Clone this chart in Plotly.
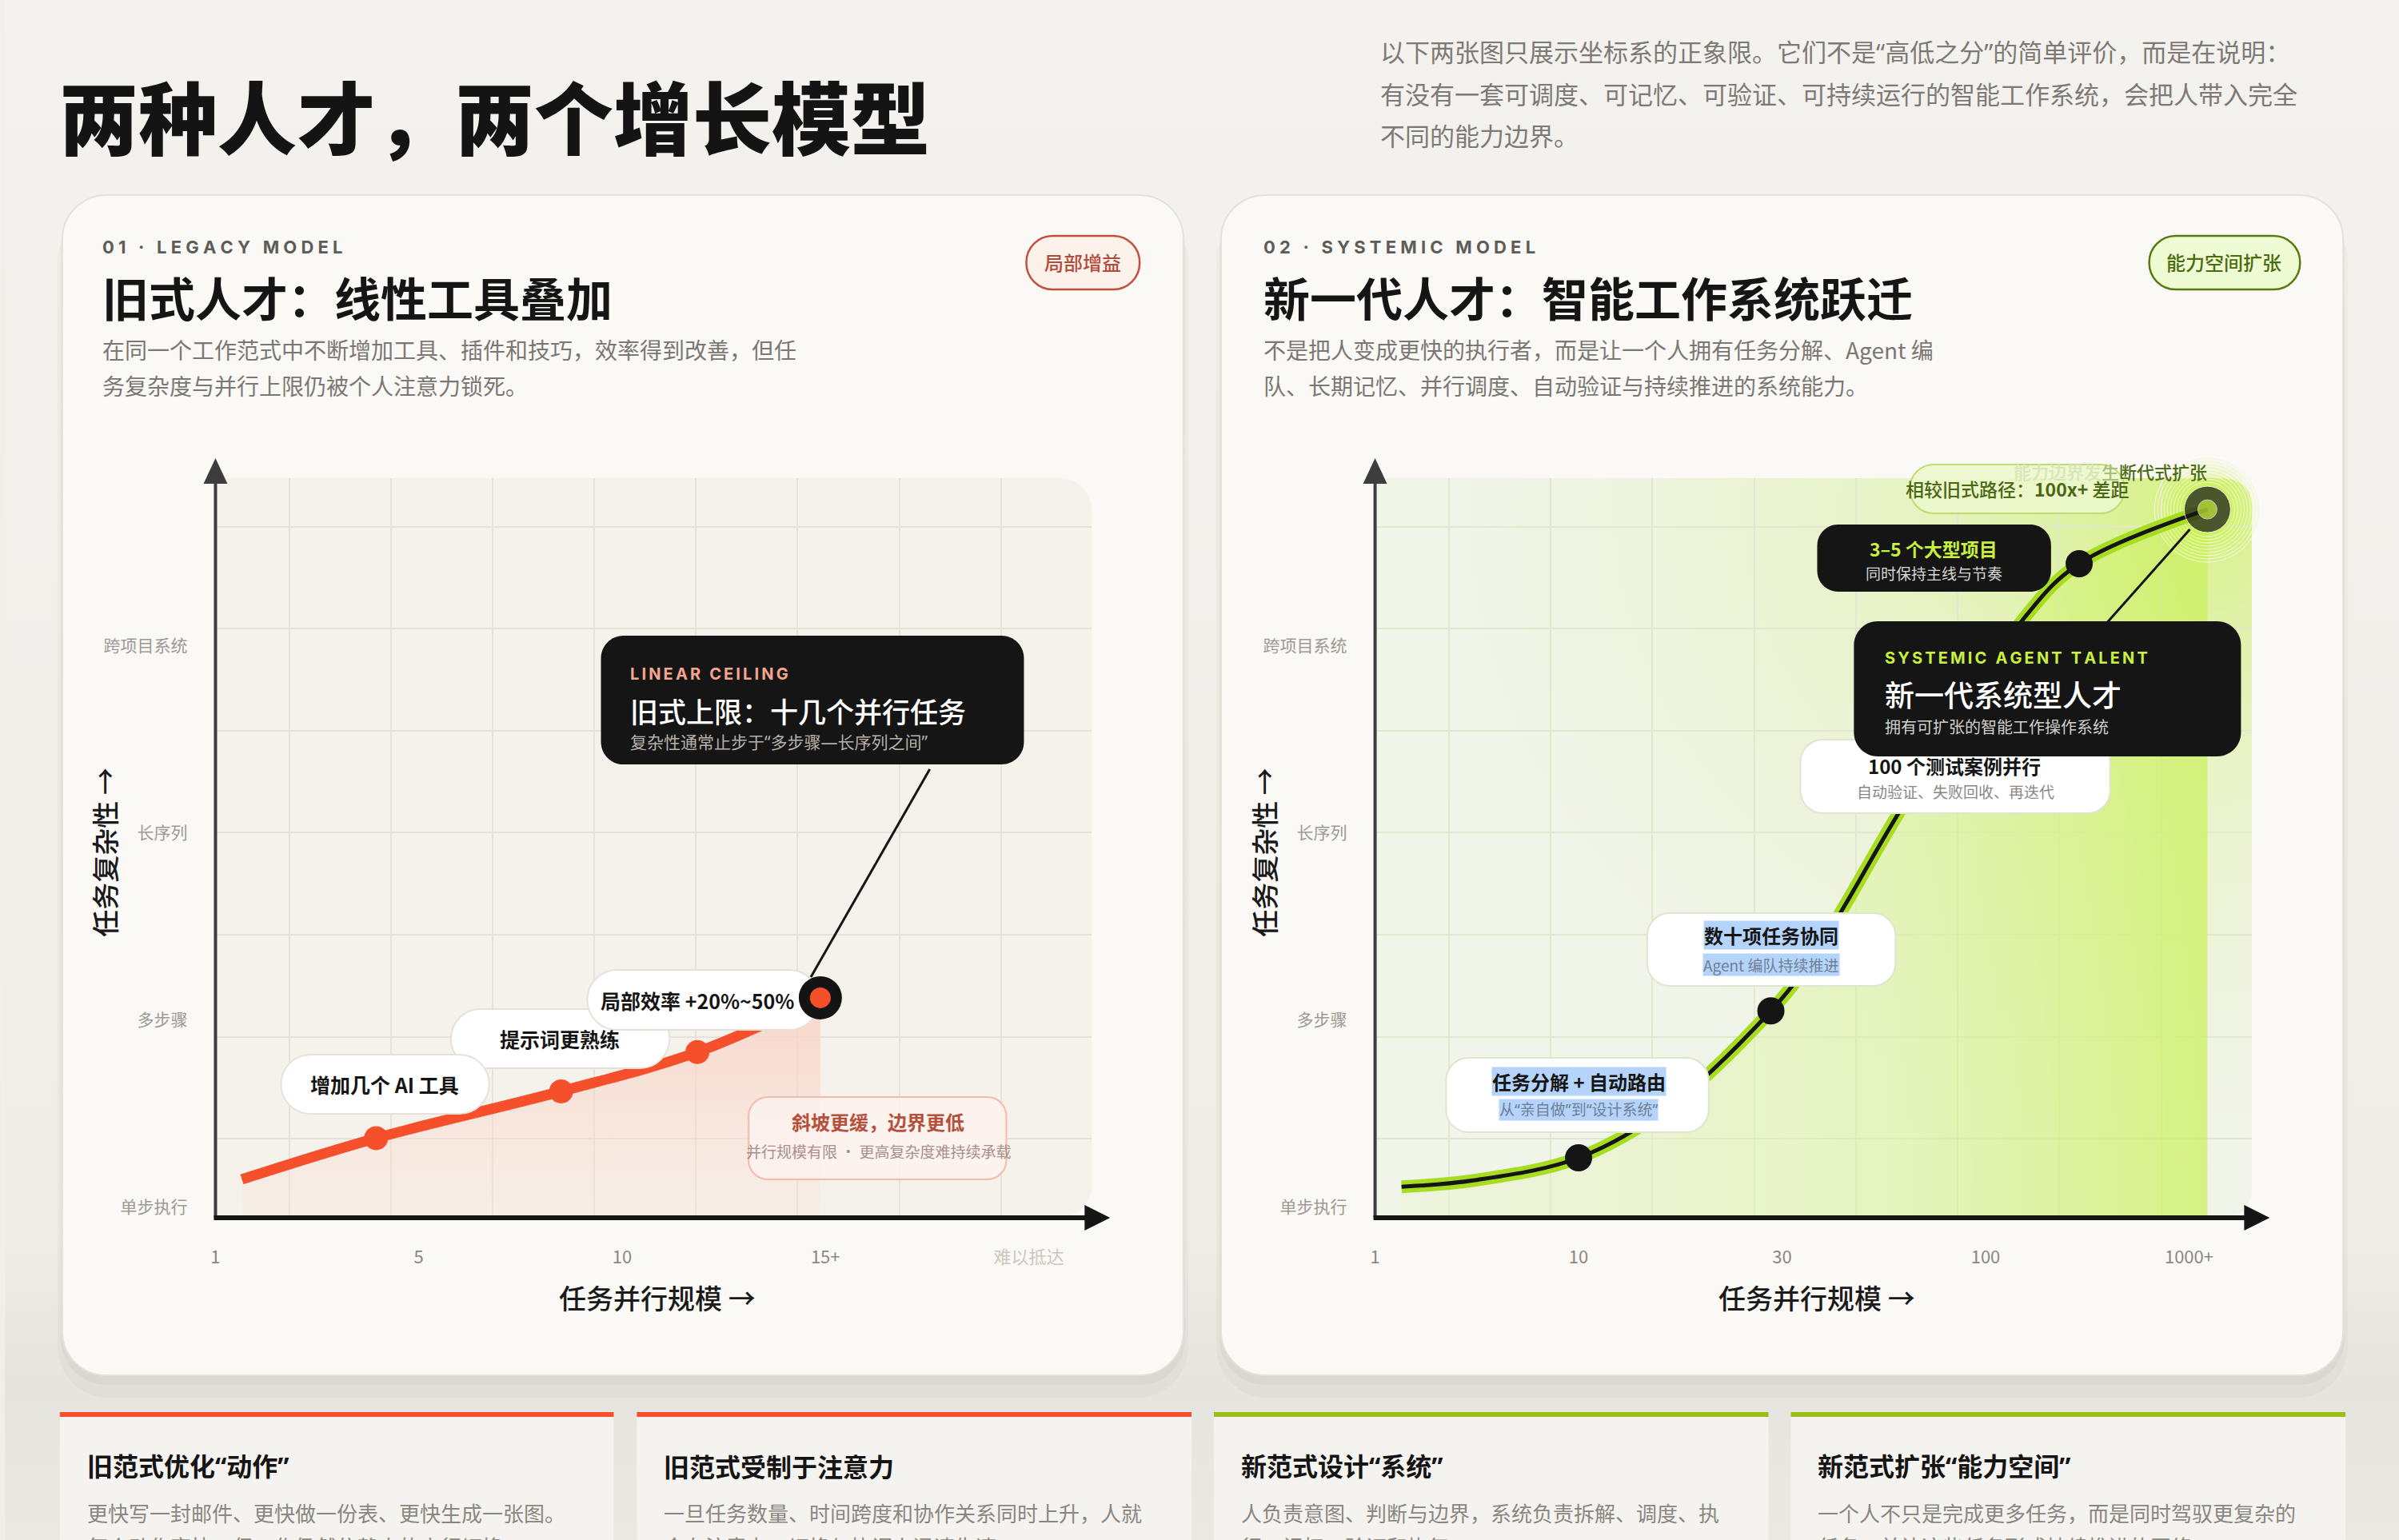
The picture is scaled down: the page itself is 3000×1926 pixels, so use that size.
import base64
import plotly.graph_objects as go

W, H = 3000, 1926
CJK = 'Noto Sans CJK SC, Noto Sans, sans-serif'
QUOTE = 'Noto Sans, Noto Sans CJK SC, sans-serif'
LAT = 'Inter, Noto Sans CJK SC, sans-serif'

RED = '#f64f2c'
LIME = '#a6dd20'
INK = '#151515'

# ---- data (positions along the category-like axes) ----
complexity_levels = ['单步执行', '多步骤', '长序列', '跨项目系统']
legacy_ticks = ['1', '5', '10', '15+', '<span style="color:#cdc7be">难以抵达</span>']
systemic_ticks = ['1', '10', '30', '100', '1000+']

legacy_scale = [0.13, 0.79, 1.70, 2.37, 2.975]
legacy_complexity = [0.15, 0.37, 0.62, 0.83, 1.12]
legacy_steps = [1, 2, 3]

systemic_scale = [0.13, 0.49, 1.0, 1.46, 1.945, 2.11, 2.29, 2.58, 3.19, 3.46, 4.09]
systemic_complexity = [0.11, 0.145, 0.265, 0.55, 1.05, 1.27, 1.58, 2.12, 3.15, 3.44, 3.73]
systemic_steps = [2, 4, 9]

card_titles = ['旧范式优化“动作”', '旧范式受制于注意力', '新范式设计“系统”', '新范式扩张“能力空间”']
card_line1 = ['更快写一封邮件、更快做一份表、更快生成一张图。',
              '一旦任务数量、时间跨度和协作关系同时上升，人就',
              '人负责意图、判断与边界，系统负责拆解、调度、执',
              '一个人不只是完成更多任务，而是同时驾驭更复杂的']
card_line2 = ['每个动作变快，但工作仍然依赖人的串行切换。',
              '会在注意力、切换与协调上迅速失速。',
              '行、记忆、验证和恢复。',
              '任务，并让这些任务形成持续推进的网络。']
card_colors = [RED, RED, '#9cbf18', '#9cbf18']

X_RANGE = [0, 4.31]
Y_RANGE = [-0.0556, 3.897]
GRID_U = [0.363 + 0.5 * k for k in range(8)]
GRID_V = [0.367 + 0.545 * k for k in range(7)]


def P(x, y):
    return f'{x / W:.5f} {1 - y / H:.5f}'


def rpath(x0, y0, x1, y1, r):
    if isinstance(r, (int, float)):
        r = (r, r, r, r)
    tl, tr, br, bl = r
    k = 0.4477
    return (f'M {P(x0 + tl, y0)} L {P(x1 - tr, y0)} '
            f'C {P(x1 - tr * k, y0)} {P(x1, y0 + tr * k)} {P(x1, y0 + tr)} '
            f'L {P(x1, y1 - br)} C {P(x1, y1 - br * k)} {P(x1 - br * k, y1)} {P(x1 - br, y1)} '
            f'L {P(x0 + bl, y1)} C {P(x0 + bl * k, y1)} {P(x0, y1 - bl * k)} {P(x0, y1 - bl)} '
            f'L {P(x0, y0 + tl)} C {P(x0, y0 + tl * k)} {P(x0 + tl * k, y0)} {P(x0 + tl, y0)} Z')


def box(x0, y0, x1, y1, r, fill, line=None, lw=0, layer='below'):
    return dict(type='path', path=rpath(x0, y0, x1, y1, r), xref='paper', yref='paper',
                fillcolor=fill, line=dict(color=line or 'rgba(0,0,0,0)', width=lw), layer=layer)


def seg(x0, y0, x1, y1, color, width, layer='above'):
    return dict(type='line', xref='paper', yref='paper', x0=x0 / W, y0=1 - y0 / H,
                x1=x1 / W, y1=1 - y1 / H, line=dict(color=color, width=width), layer=layer)


def tri(pts, color):
    d = 'M ' + ' L '.join(P(x, y) for x, y in pts) + ' Z'
    return dict(type='path', path=d, xref='paper', yref='paper', fillcolor=color,
                line=dict(width=0), layer='above')


def note(x, y, s, size, color, weight=400, anchor='left', family=None, **kw):
    if family is None:
        family = QUOTE if '“' in s else CJK
    if anchor == 'left':
        x -= 6
    d = dict(x=x / W, y=1 - y / H, xref='paper', yref='paper', text=s, showarrow=False,
             xanchor=anchor, yanchor='middle',
             font=dict(family=family, size=size, color=color, weight=weight))
    d.update(kw)
    return d


def spaced(s, sep='\u2009'):
    return sep.join(s)


def svg_uri(svg):
    return 'data:image/svg+xml;base64,' + base64.b64encode(svg.encode()).decode()


fig = go.Figure()

# ---- left chart traces ----
fig.add_trace(go.Scatter(x=[legacy_scale[0], legacy_scale[-1]], y=[Y_RANGE[0]] * 2, mode='lines',
                         line=dict(width=0), hoverinfo='skip', xaxis='x', yaxis='y'))
fig.add_trace(go.Scatter(x=legacy_scale, y=legacy_complexity, mode='lines',
                         line=dict(color=RED, width=13, shape='spline'), fill='tonexty',
                         fillgradient=dict(type='vertical', start=Y_RANGE[0], stop=legacy_complexity[-1],
                                           colorscale=[[0, 'rgba(250,226,216,0.25)'],
                                                       [1, 'rgba(250,204,190,0.75)']]),
                         hoverinfo='skip', xaxis='x', yaxis='y'))
fig.add_trace(go.Scatter(x=[legacy_scale[i] for i in legacy_steps],
                         y=[legacy_complexity[i] for i in legacy_steps], mode='markers',
                         marker=dict(size=30, color=RED), hoverinfo='skip', xaxis='x', yaxis='y'))

# ---- right chart traces ----
fig.add_trace(go.Scatter(x=[systemic_scale[0], systemic_scale[-1]], y=[Y_RANGE[0]] * 2, mode='lines',
                         line=dict(width=0), hoverinfo='skip', xaxis='x2', yaxis='y2'))
fig.add_trace(go.Scatter(x=systemic_scale, y=systemic_complexity, mode='lines',
                         line=dict(width=0, shape='spline'), fill='tonexty',
                         fillgradient=dict(type='horizontal', start=systemic_scale[0], stop=systemic_scale[-1],
                                           colorscale=[[0, 'rgba(230,243,195,0.3)'],
                                                       [0.6, 'rgba(218,243,150,0.5)'],
                                                       [1, 'rgba(204,240,95,0.75)']]),
                         hoverinfo='skip', xaxis='x2', yaxis='y2'))
glow_sizes = [132, 124, 116, 108, 100, 92, 84, 76, 68]
fig.add_trace(go.Scatter(x=[systemic_scale[-1]] * len(glow_sizes), y=[systemic_complexity[-1]] * len(glow_sizes),
                         mode='markers', marker=dict(size=glow_sizes, color='rgba(200,240,70,0.08)'),
                         cliponaxis=False, hoverinfo='skip', xaxis='x2', yaxis='y2'))
fig.add_trace(go.Scatter(x=systemic_scale, y=systemic_complexity, mode='lines',
                         line=dict(color=LIME, width=16, shape='spline'),
                         hoverinfo='skip', xaxis='x2', yaxis='y2'))
fig.add_trace(go.Scatter(x=systemic_scale, y=systemic_complexity, mode='lines',
                         line=dict(color=INK, width=5, shape='spline'),
                         hoverinfo='skip', xaxis='x2', yaxis='y2'))
fig.add_trace(go.Scatter(x=[systemic_scale[i] for i in systemic_steps],
                         y=[systemic_complexity[i] for i in systemic_steps], mode='markers',
                         marker=dict(size=34, color=INK), hoverinfo='skip', xaxis='x2', yaxis='y2'))
fig.add_trace(go.Scatter(x=[systemic_scale[-1]] * 2, y=[systemic_complexity[-1]] * 2, mode='markers',
                         marker=dict(size=[58, 24], color=[INK, '#c8f03c']),
                         cliponaxis=False, hoverinfo='skip', xaxis='x2', yaxis='y2'))


def xaxis(domain, ticks, grid):
    return dict(domain=domain, range=X_RANGE, tickmode='array', tickvals=list(range(len(ticks))),
                ticktext=ticks, showgrid=False, zeroline=False, showline=False, ticks='',
                ticklabelstandoff=34, tickfont=dict(family=CJK, size=22, color='#8c8782'),
                minor=dict(tickmode='array', tickvals=GRID_U, showgrid=True, gridcolor=grid,
                           gridwidth=2, ticks=''), fixedrange=True)


def yaxis(anchor, grid):
    return dict(domain=[1 - 1523 / H, 1 - 598 / H], range=Y_RANGE, tickmode='array',
                tickvals=list(range(len(complexity_levels))), ticktext=complexity_levels,
                showgrid=False, zeroline=False, showline=False, ticks='', anchor=anchor,
                ticklabelstandoff=34, tickfont=dict(family=CJK, size=21, color='#9e9993'),
                minor=dict(tickmode='array', tickvals=GRID_V, showgrid=True, gridcolor=grid,
                           gridwidth=2, ticks=''), fixedrange=True)


# ---- backgrounds ----
page_svg = (f"<svg xmlns='http://www.w3.org/2000/svg' width='{W}' height='{H}' viewBox='0 0 {W} {H}' "
            "preserveAspectRatio='none'><defs><linearGradient id='p' x1='0' y1='0' x2='0' y2='1'>"
            "<stop offset='0' stop-color='#f4f2ee'/><stop offset='0.8' stop-color='#efede8'/>"
            "<stop offset='0.9' stop-color='#e6e4de'/><stop offset='1' stop-color='#ebe9e4'/>"
            f"</linearGradient></defs><rect width='{W}' height='{H}' fill='url(#p)'/></svg>")

bw, bh = 1096, 925
bg_path = f'M0 0 H{bw - 40} Q{bw} 0 {bw} 40 V{bh - 40} Q{bw} {bh} {bw - 40} {bh} H0 Z'
green_svg = (f"<svg xmlns='http://www.w3.org/2000/svg' width='{bw}' height='{bh}' viewBox='0 0 {bw} {bh}' "
             "preserveAspectRatio='none'><defs><radialGradient id='g' cx='0.93' cy='0.04' r='0.95'>"
             "<stop offset='0' stop-color='#d4f07a' stop-opacity='0.9'/>"
             "<stop offset='0.35' stop-color='#dff2a6' stop-opacity='0.55'/>"
             "<stop offset='0.75' stop-color='#eaf2cf' stop-opacity='0.25'/>"
             "<stop offset='1' stop-color='#f1f4e8' stop-opacity='0'/></radialGradient></defs>"
             f"<path d='{bg_path}' fill='#f1f4e9'/><path d='{bg_path}' fill='url(#g)'/></svg>")

images = [
    dict(source=svg_uri(page_svg), xref='paper', yref='paper', x=0, y=1, sizex=1, sizey=1,
         sizing='stretch', xanchor='left', yanchor='top', layer='below'),
    dict(source=svg_uri(green_svg), xref='x2', yref='y2', x=0, y=Y_RANGE[1], sizex=X_RANGE[1],
         sizey=Y_RANGE[1] - Y_RANGE[0], sizing='stretch', xanchor='left', yanchor='top', layer='below'),
]

shapes = []
# main cards with soft shadow
for x0, x1 in [(72, 1477), (1524, 2930)]:
    shapes.append(box(x0 - 6, 264, x1 + 6, 1748, 64, 'rgba(70,60,40,0.03)'))
    shapes.append(box(x0 - 2, 252, x1 + 2, 1732, 58, 'rgba(70,60,40,0.045)'))
    shapes.append(box(x0, 244, x1, 1720, 55, '#faf9f6', '#e4e1da', 2))
shapes.append(box(264, 598, 1362, 1523, (0, 40, 40, 0), '#f5f2eb'))

# badges
shapes.append(box(1280, 295, 1422, 362, 33, '#fdf1ec', '#c0503c', 2.5))
shapes.append(box(2687, 295, 2876, 362, 33, '#eefbd3', '#587a12', 2.5))

# bottom cards
card_x = [(69, 763), (792, 1487), (1515, 2210), (2238, 2933)]
for (x0, x1), c in zip(card_x, card_colors):
    shapes.append(dict(type='rect', xref='paper', yref='paper', x0=x0 / W, x1=x1 / W,
                       y0=1 - 1950 / H, y1=1 - 1766 / H, fillcolor='#f5f3ef', line=dict(width=0), layer='below'))
    shapes.append(dict(type='rect', xref='paper', yref='paper', x0=x0 / W, x1=x1 / W,
                       y0=1 - 1772 / H, y1=1 - 1766 / H, fillcolor=c, line=dict(width=0), layer='below'))

# axes with arrows
for ox in [0, 1453]:
    shapes.append(seg(264 + ox, 1523, 264 + ox, 603, '#3d3d3d', 4))
    shapes.append(tri([(264 + ox, 573), (249 + ox, 605), (279 + ox, 605)], '#3d3d3d'))
    shapes.append(seg(262 + ox, 1523, 1358 + ox, 1523, INK, 6))
    shapes.append(tri([(1385 + ox, 1523), (1353 + ox, 1507), (1353 + ox, 1539)], INK))

# left chart overlays
shapes.append(box(559, 1262, 833, 1336, 37, '#ffffff', '#e6e2da', 2, 'above'))
shapes.append(box(346, 1319, 607, 1393, 37, '#ffffff', '#e6e2da', 2, 'above'))
shapes.append(box(730, 1213, 1020, 1288, 37, '#ffffff', '#e6e2da', 2, 'above'))
shapes.append(box(932, 1372, 1255, 1475, 24, 'rgba(253,242,238,0.85)', '#f6b8a8', 2, 'above'))
shapes.append(box(747, 795, 1277, 956, 28, INK, layer='above'))
shapes.append(seg(1159, 962, 1010, 1222, INK, 3))
for r, c in [(27, '#141414'), (13, RED)]:
    shapes.append(dict(type='circle', xref='x', yref='y', xsizemode='pixel', ysizemode='pixel',
                       xanchor=legacy_scale[-1], yanchor=legacy_complexity[-1],
                       x0=-r, x1=r, y0=-r, y1=r, fillcolor=c, line=dict(width=0), layer='above'))

# right chart overlays
shapes.append(box(2387, 581, 2656, 642, 30, 'rgba(236,247,205,0.88)', '#bddc72', 2, 'above'))
shapes.append(box(1806, 1323, 2135, 1416, 28, '#ffffff', '#dfe6cf', 2, 'above'))
shapes.append(box(2058, 1142, 2369, 1233, 28, '#ffffff', '#dfe6cf', 2, 'above'))
shapes.append(box(2250, 925, 2638, 1017, 28, '#ffffff', '#dfe6cf', 2, 'above'))
shapes.append(box(2271, 656, 2564, 740, 26, INK, layer='above'))
shapes.append(seg(2738, 662, 2633, 780, INK, 3))
shapes.append(box(2317, 777, 2802, 946, 30, INK, layer='above'))

# ---- text ----
ann = []
ann.append(note(72, 143, '两种人才，两个增长模型', 99, '#141414', 900))
intro = ['以下两张图只展示坐标系的正象限。它们不是“高低之分”的简单评价，而是在说明：',
         '有没有一套可调度、可记忆、可验证、可持续运行的智能工作系统，会把人带入完全',
         '不同的能力边界。']
for i, line in enumerate(intro):
    ann.append(note(1727, 65 + 52 * i, line, 31, '#7d7a75'))

ann.append(note(126, 309, spaced('01 · LEGACY MODEL', '\u2009\u200a'), 22, '#5f5c58', 700, family=LAT))
ann.append(note(126, 371, '旧式人才：线性工具叠加', 58, INK, 700))
ann.append(note(126, 437, '在同一个工作范式中不断增加工具、插件和技巧，效率得到改善，但任', 28, '#7b7772'))
ann.append(note(126, 482, '务复杂度与并行上限仍被个人注意力锁死。', 28, '#7b7772'))
ann.append(note(1351, 328, '局部增益', 24, '#b34a36', 500, 'center'))

ann.append(note(1581, 309, spaced('02 · SYSTEMIC MODEL', '\u2009\u200a'), 22, '#5f5c58', 700, family=LAT))
ann.append(note(1581, 371, '新一代人才：智能工作系统跃迁', 58, INK, 700))
ann.append(note(1581, 437, '不是把人变成更快的执行者，而是让一个人拥有任务分解、Agent 编', 28, '#7b7772'))
ann.append(note(1581, 482, '队、长期记忆、并行调度、自动验证与持续推进的系统能力。', 28, '#7b7772'))
ann.append(note(2781, 328, '能力空间扩张', 24, '#4b6b0e', 500, 'center'))

# left chart labels
ann.append(note(788, 843, spaced('LINEAR CEILING'), 20, '#f5a58d', 700, family=LAT))
ann.append(note(788, 888, '旧式上限：十几个并行任务', 35, '#ffffff', 500))
ann.append(note(788, 928, '复杂性通常止步于“多步骤—长序列之间”', 21, '#b5b0a9'))
ann.append(note(476, 1356, '增加几个 AI 工具', 25, INK, 700, 'center'))
ann.append(note(695, 1299, '提示词更熟练', 25, INK, 700, 'center'))
ann.append(note(750, 1251, '局部效率 +20%~50%', 25, INK, 700))
ann.append(note(1094, 1402, '斜坡更缓，边界更低', 24, '#b5503c', 700, 'center'))
ann.append(note(1095, 1439, '并行规模有限 · 更高复杂度难持续承载', 19, '#a89089', 400, 'center'))

# right chart labels
ann.append(note(2762, 589, '<span style="color:#d9e6b8">能力边界发</span><span style="color:#a9bf78">生</span>断代式扩张',
                22, '#4f6d14', 500, 'right'))
ann.append(note(2522, 611, '相较旧式路径：<b>100x+</b> 差距', 23, '#4a6814', 500, 'center'))
ann.append(note(2417, 686, '3–5 个大型项目', 23, '#c8f03c', 700, 'center'))
ann.append(note(2417, 716, '同时保持主线与节奏', 19, '#d6d6d2', 400, 'center'))
ann.append(note(2443, 957, '100 个测试案例并行', 24, INK, 700, 'center'))
ann.append(note(2444, 990, '自动验证、失败回收、再迭代', 19, '#8a8782', 400, 'center'))
ann.append(note(2360, 823, spaced('SYSTEMIC AGENT TALENT'), 20, '#c8f03c', 700, family=LAT))
ann.append(note(2360, 868, '新一代系统型人才', 37, '#ffffff', 500))
ann.append(note(2360, 908, '拥有可扩张的智能工作操作系统', 20, '#cfcfcb'))
HL = '#b4d4fb'
ann.append(note(2213, 1169, '数十项任务协同', 24, INK, 700, 'center', bgcolor=HL, borderpad=0))
ann.append(note(2213, 1206, 'Agent 编队持续推进', 19, '#6f7f96', 400, 'center', bgcolor=HL, borderpad=0))
ann.append(note(1972, 1352, '任务分解 + 自动路由', 24, INK, 700, 'center', bgcolor=HL, borderpad=0))
ann.append(note(1972, 1388, '从“亲自做”到“设计系统”', 19, '#6f7f96', 400, 'center', bgcolor=HL, borderpad=0))

# axis titles
for ox in [0, 1453]:
    ann.append(note(818 + ox, 1622, '任务并行规模 →', 34, '#1a1a1a', 500, 'center'))
    ann.append(note(124 + ox, 1066, '任务复杂性 →', 34, '#1a1a1a', 500, 'center', textangle=-90))

# bottom cards
for (x0, x1), t, l1, l2 in zip(card_x, card_titles, card_line1, card_line2):
    ann.append(note(x0 + 38, 1833, t, 32, INK, 700))
    ann.append(note(x0 + 38, 1891, l1, 26, '#8a8680'))
    ann.append(note(x0 + 38, 1933, l2, 26, '#8a8680'))

fig.update_layout(
    width=W, height=H, margin=dict(l=0, r=0, t=0, b=0),
    paper_bgcolor='#f1efea', plot_bgcolor='rgba(0,0,0,0)', showlegend=False,
    xaxis=xaxis([264 / W, 1362 / W], legacy_ticks, '#e7e2d9'),
    yaxis=yaxis('x', '#e7e2d9'),
    xaxis2=xaxis([1717 / W, 2816 / W], systemic_ticks, '#e1e8d0'),
    yaxis2=yaxis('x2', '#e1e8d0'),
    shapes=shapes, annotations=ann, images=images,
)
fig.layout.xaxis2.anchor = 'y2'

fig.write_html('out.html', config={'displayModeBar': False},
               post_script="document.body.style.margin='0';")
